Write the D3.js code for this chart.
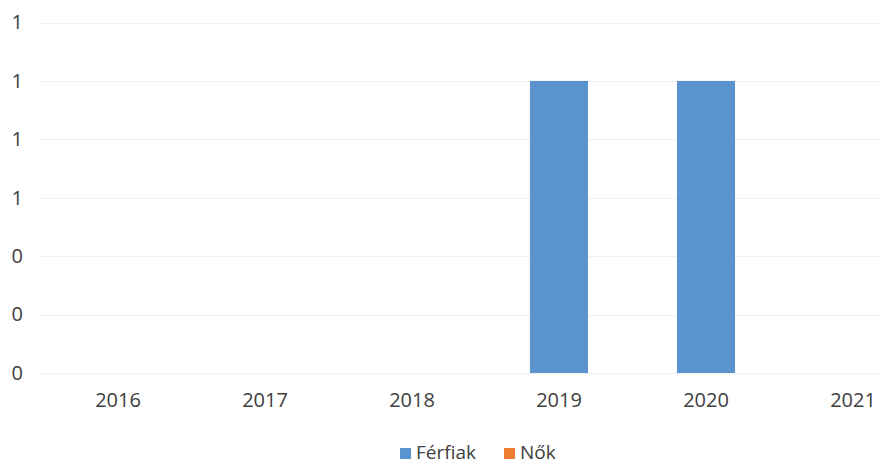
<!DOCTYPE html>
<html>
<head>
<meta charset="utf-8">
<script src="https://cdn.jsdelivr.net/npm/d3@7"></script>
<style>
  html, body { margin: 0; padding: 0; background: #fff; }
  svg { display: block; overflow: hidden; }
  text { font-family: "Open Sans", "Noto Sans", sans-serif; fill: #404040; }
</style>
</head>
<body>
<svg id="chart" width="879" height="466"></svg>
<script>
const categories = ["2016", "2017", "2018", "2019", "2020", "2021"];
const seriesNames = ["Férfiak", "Nők"];
const ferfiak = [0, 0, 0, 1, 1, 0];
const nok = [0, 0, 0, 0, 0, 0];
const seriesColors = ["#5b93cf", "#ed7d31"];
const yTickValues = [0, 0.2, 0.4, 0.6, 0.8, 1.0, 1.2];
const yTickLabels = ["0", "0", "0", "1", "1", "1", "1"];

const svg = d3.select("#chart");
const x = d3.scaleBand().domain(categories).range([44.5, 926.5])
  .paddingInner(0.605).paddingOuter(0.3025);
const y = d3.scaleLinear().domain([0, 1.2]).range([373, 22.5]);

// gridlines
svg.append("g").selectAll("line").data(yTickValues).join("line")
  .attr("x1", 40).attr("x2", 879)
  .attr("y1", d => Math.round(y(d)) + 0.5).attr("y2", d => Math.round(y(d)) + 0.5)
  .attr("stroke", "#f0f0f0").attr("stroke-width", 1);

// y axis labels
const yAxis = d3.axisLeft(y).tickValues(yTickValues)
  .tickFormat((d, i) => yTickLabels[i]).tickSize(0).tickPadding(0);
const gy = svg.append("g").attr("transform", "translate(23,0)").call(yAxis);
gy.select(".domain").remove();
gy.selectAll("text").attr("font-size", 20).attr("fill", "#404040")
  .style("font-family", "Open Sans, sans-serif");

// stacked bars
const rows = categories.map((c, i) => ({ cat: c, "Férfiak": ferfiak[i], "Nők": nok[i] }));
const stack = d3.stack().keys(seriesNames)(rows);
svg.append("g").selectAll("g").data(stack).join("g")
  .attr("fill", (d, i) => seriesColors[i])
  .selectAll("rect").data(d => d).join("rect")
  .attr("x", d => x(d.data.cat))
  .attr("width", x.bandwidth())
  .attr("y", d => y(d[1]))
  .attr("height", d => y(d[0]) - y(d[1]));

// x axis labels
const xAxis = d3.axisBottom(x).tickSize(0).tickPadding(0);
const gx = svg.append("g").attr("transform", "translate(0,393)").call(xAxis);
gx.select(".domain").remove();
gx.selectAll("text").attr("font-size", 20).attr("fill", "#404040")
  .attr("dy", "0.71em")
  .style("font-family", "Open Sans, sans-serif");

// legend
const legendItems = [
  { name: seriesNames[0], color: seriesColors[0], x: 400 },
  { name: seriesNames[1], color: seriesColors[1], x: 504 }
];
const lg = svg.append("g");
legendItems.forEach(it => {
  lg.append("rect").attr("x", it.x).attr("y", 448).attr("width", 11).attr("height", 11)
    .attr("fill", it.color);
  lg.append("text").attr("x", it.x + 16).attr("y", 459)
    .attr("font-size", 19).text(it.name);
});
</script>
</body>
</html>
